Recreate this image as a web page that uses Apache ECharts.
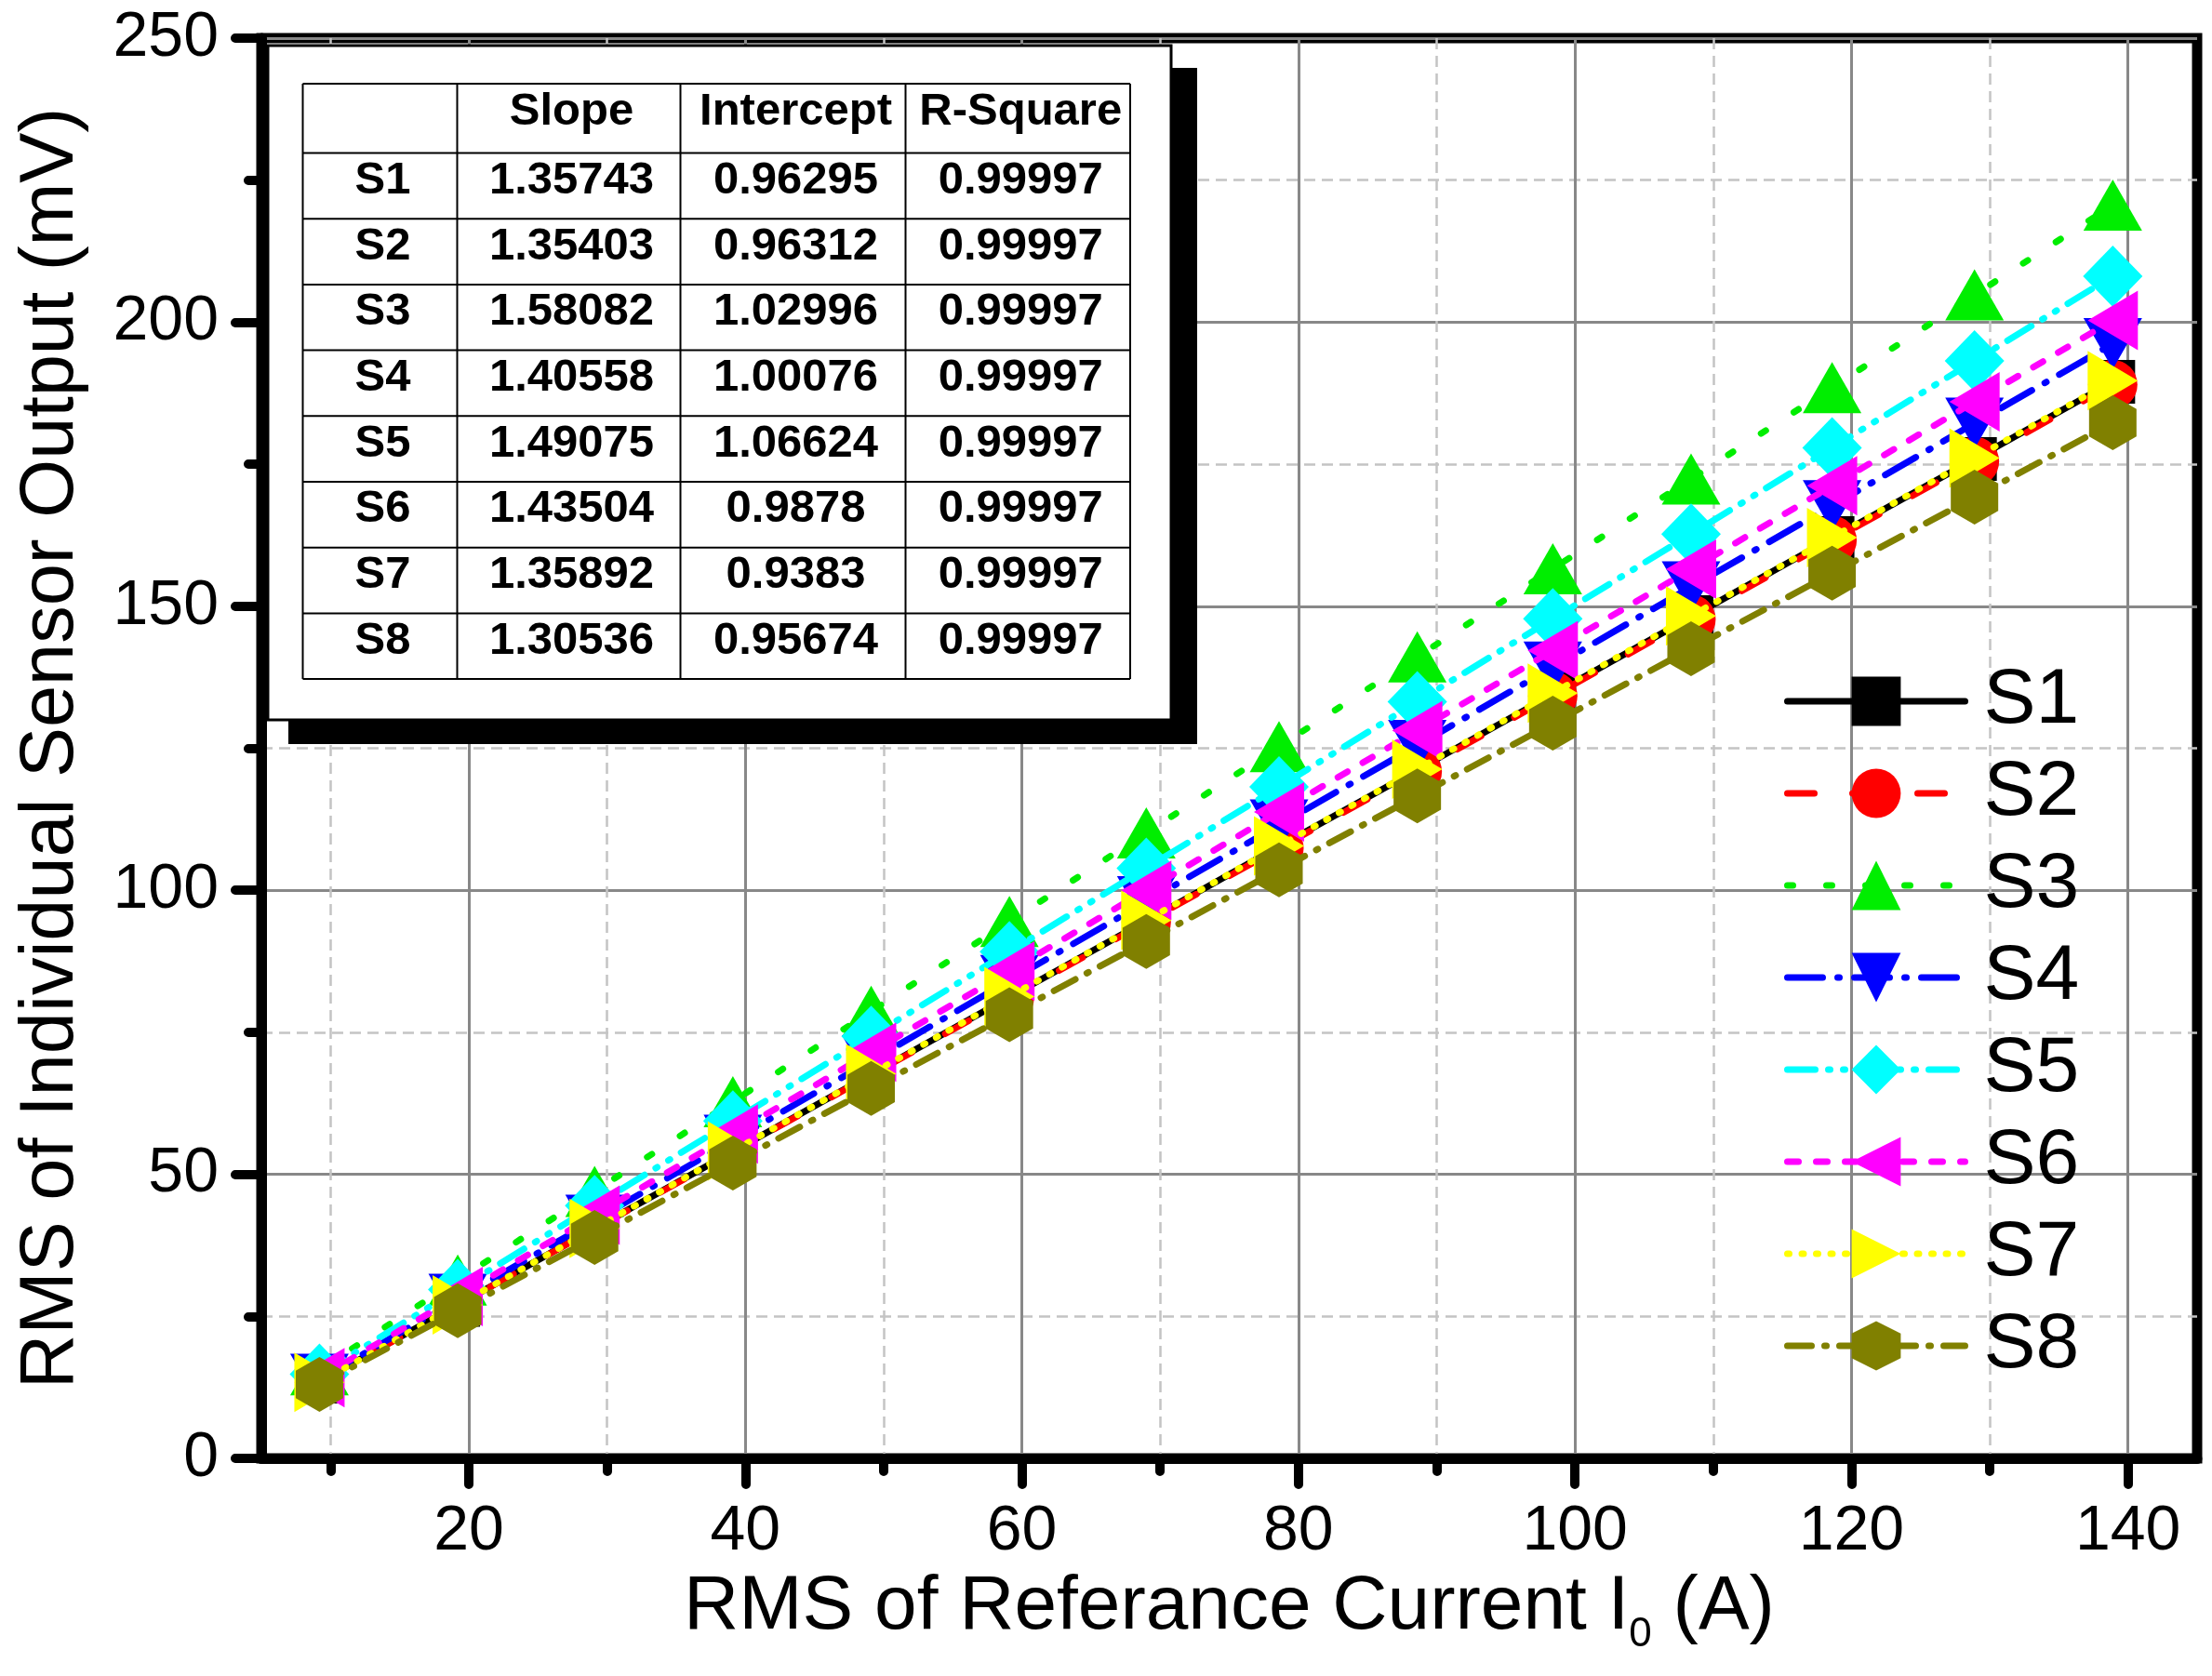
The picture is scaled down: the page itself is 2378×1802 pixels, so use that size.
<!DOCTYPE html>
<html>
<head>
<meta charset="utf-8">
<script src="https://cdn.jsdelivr.net/npm/echarts@6/dist/echarts.min.js"></script>
<style>
html,body{margin:0;padding:0;background:#fff;}
#chart{width:2378px;height:1802px;}
</style>
</head>
<body>
<div id="chart"></div>
<script>
// ---------------- data ----------------
const xValues = [9.2, 19.2, 29.1, 39.1, 49.1, 59.1, 69.0, 78.6, 88.6, 98.4, 108.4, 118.6, 128.9, 138.9];
const seriesNames = ['S1', 'S2', 'S3', 'S4', 'S5', 'S6', 'S7', 'S8'];
const s1 = [13.5, 27.0, 40.5, 54.0, 67.6, 81.2, 94.6, 107.7, 121.2, 134.5, 148.1, 162.0, 175.9, 189.5];
const s2 = [13.4, 27.0, 40.4, 53.9, 67.5, 81.0, 94.4, 107.4, 120.9, 134.2, 147.7, 161.6, 175.5, 189.0];
const s3 = [15.6, 31.4, 47.0, 62.8, 78.7, 94.5, 110.1, 125.3, 141.1, 156.6, 172.4, 188.5, 204.8, 220.6];
const s4 = [13.9, 28.0, 41.9, 56.0, 70.0, 84.1, 98.0, 111.5, 125.5, 139.3, 153.4, 167.7, 182.2, 196.2];
const s5 = [14.8, 29.7, 44.5, 59.4, 74.3, 89.2, 103.9, 118.2, 133.2, 147.8, 162.7, 177.9, 193.2, 208.1];
const s6 = [14.2, 28.5, 42.8, 57.1, 71.5, 85.8, 100.0, 113.8, 128.1, 142.2, 156.5, 171.2, 186.0, 200.3];
const s7 = [13.4, 27.0, 40.5, 54.1, 67.7, 81.3, 94.7, 107.8, 121.3, 134.7, 148.3, 162.1, 176.1, 189.7];
const s8 = [13.0, 26.0, 38.9, 52.0, 65.1, 78.1, 91.0, 103.6, 116.6, 129.4, 142.5, 155.8, 169.2, 182.3];
const seriesValues = [s1, s2, s3, s4, s5, s6, s7, s8];

const xTickLabels = [20, 40, 60, 80, 100, 120, 140];
const yTickLabels = [0, 50, 100, 150, 200, 250];

const tableHeader = ['', 'Slope', 'Intercept', 'R-Square'];
const tableSlope = ['1.35743', '1.35403', '1.58082', '1.40558', '1.49075', '1.43504', '1.35892', '1.30536'];
const tableIntercept = ['0.96295', '0.96312', '1.02996', '1.00076', '1.06624', '0.9878', '0.9383', '0.95674'];
const tableRSquare = ['0.99997', '0.99997', '0.99997', '0.99997', '0.99997', '0.99997', '0.99997', '0.99997'];

// ---------------- styles ----------------
const FONT = '"Liberation Sans", Arial, sans-serif';
const seriesStyles = [
  { color: '#000000', dash: 'solid', symbol: 'rect', size: [48, 47] },
  { color: '#ff0000', dash: [29, 41], symbol: 'circle', size: 53 },
  { color: '#00ee00', dash: [6, 36], symbol: 'triangle', size: [63, 55] },
  { color: '#0000ff', dash: [38, 16, 2, 16], symbol: 'path://M0,0 L2,0 L1,2 Z', size: [63, 55] },
  { color: '#00ffff', dash: [30, 14, 2, 14, 2, 14], symbol: 'diamond', size: [64, 66] },
  { color: '#ff00ff', dash: [12, 19], symbol: 'path://M2,0 L2,2 L0,1 Z', size: [54, 64] },
  { color: '#ffff00', dash: [2, 13.5], symbol: 'path://M0,0 L2,1 L0,2 Z', size: [54, 64] },
  { color: '#808000', dash: [26, 14, 2, 14], symbol: 'path://M1,0 L2,0.25 L2,0.75 L1,1 L0,0.75 L0,0.25 Z', size: [51, 59] }
];

const series = seriesNames.map((name, i) => ({
  name: name,
  type: 'line',
  data: xValues.map((x, j) => [x, seriesValues[i][j]]),
  symbol: seriesStyles[i].symbol,
  symbolSize: seriesStyles[i].size,
  showAllSymbol: true,
  lineStyle: { color: seriesStyles[i].color, width: 7, type: seriesStyles[i].dash, cap: 'round' },
  itemStyle: { color: seriesStyles[i].color },
  emphasis: { disabled: true },
  animation: false,
  z: 2 + i
}));

// ---------------- table (inset) ----------------
const colX = [325.5, 491.5, 731.5, 973.5, 1215];
const rowY = [90, 164.5, 235.2, 305.9, 376.6, 447.3, 518, 588.7, 659.4, 730.1];
const graphics = [];
graphics.push({ type: 'rect', z: 100, shape: { x: 310, y: 73, width: 977, height: 727 }, style: { fill: '#000' } });
graphics.push({ type: 'rect', z: 101, shape: { x: 288, y: 49, width: 971, height: 725 }, style: { fill: '#fff', stroke: '#000', lineWidth: 3 } });
colX.forEach(x => graphics.push({ type: 'line', z: 102, shape: { x1: x, y1: rowY[0], x2: x, y2: rowY[rowY.length - 1] }, style: { stroke: '#000', lineWidth: 2 } }));
rowY.forEach(y => graphics.push({ type: 'line', z: 102, shape: { x1: colX[0], y1: y, x2: colX[colX.length - 1], y2: y }, style: { stroke: '#000', lineWidth: 2 } }));
function cellText(txt, c, r) {
  const cx = (colX[c] + colX[c + 1]) / 2 + 3;
  const cy = (rowY[r] + rowY[r + 1]) / 2 + (r === 0 ? -7 : -5.5);
  graphics.push({
    type: 'text', z: 103,
    style: { text: txt, x: cx, y: cy, font: 'bold 49px ' + FONT, fill: '#000',
      align: 'center', verticalAlign: 'middle', textAlign: 'center', textVerticalAlign: 'middle' }
  });
}
tableHeader.forEach((h, c) => { if (h) cellText(h, c, 0); });
seriesNames.forEach((n, r) => {
  cellText(n, 0, r + 1);
  cellText(tableSlope[r], 1, r + 1);
  cellText(tableIntercept[r], 2, r + 1);
  cellText(tableRSquare[r], 3, r + 1);
});

// ---------------- chart ----------------
const chart = echarts.init(document.getElementById('chart'), null, { renderer: 'canvas' });
const axisCommon = {
  axisLine: { show: true, onZero: false, lineStyle: { color: '#000', width: 11 } },
  axisTick: { show: true, inside: false, length: 28, lineStyle: { color: '#000', width: 10, cap: 'round' } },
  minorTick: { show: true, splitNumber: 2, length: 14, lineStyle: { color: '#000', width: 10, cap: 'round' } },
  splitLine: { show: true, lineStyle: { color: '#888888', width: 3 } },
  minorSplitLine: { show: true, lineStyle: { color: '#c4c4c4', width: 2.5, type: [12, 7] } }
};
chart.setOption({
  animation: false,
  backgroundColor: '#ffffff',
  grid: { left: 281, right: 16, top: 41, bottom: 234, show: true, borderColor: '#000', borderWidth: 11, backgroundColor: 'transparent', containLabel: false },
  legend: {
    data: seriesNames,
    orient: 'vertical',
    left: 1918, top: 712,
    padding: 0,
    itemWidth: 191, itemHeight: 66, itemGap: 15,
    selectedMode: false,
    lineStyle: { width: 7, cap: 'round' },
    textStyle: { fontSize: 84, color: '#000', fontFamily: FONT, padding: [0, 0, 0, 15] }
  },
  xAxis: Object.assign({}, axisCommon, {
    type: 'value', min: 5, max: 145, minInterval: 20, maxInterval: 20, splitNumber: 7,
    axisTick: Object.assign({}, axisCommon.axisTick, { customValues: xTickLabels }),
    axisLabel: { fontSize: 68, color: '#000', fontFamily: FONT, margin: 45, customValues: xTickLabels },
    name: 'RMS of Referance Current I{sub|0} (A)',
    nameLocation: 'middle', nameGap: 108,
    nameTextStyle: { fontSize: 82, color: '#000', fontFamily: FONT,
      rich: { sub: { fontSize: 44, color: '#000', fontFamily: FONT, padding: [60, 0, 0, 0] } } }
  }),
  yAxis: Object.assign({}, axisCommon, {
    type: 'value', min: 0, max: 250, interval: 50,
    axisLabel: { fontSize: 68, color: '#000', fontFamily: FONT, margin: 46, customValues: yTickLabels },
    name: 'RMS of Individual Sensor Output (mV)',
    nameLocation: 'middle', nameGap: 185,
    nameTextStyle: { fontSize: 81, color: '#000', fontFamily: FONT }
  }),
  series: series,
  graphic: { elements: graphics }
});
</script>
</body>
</html>
